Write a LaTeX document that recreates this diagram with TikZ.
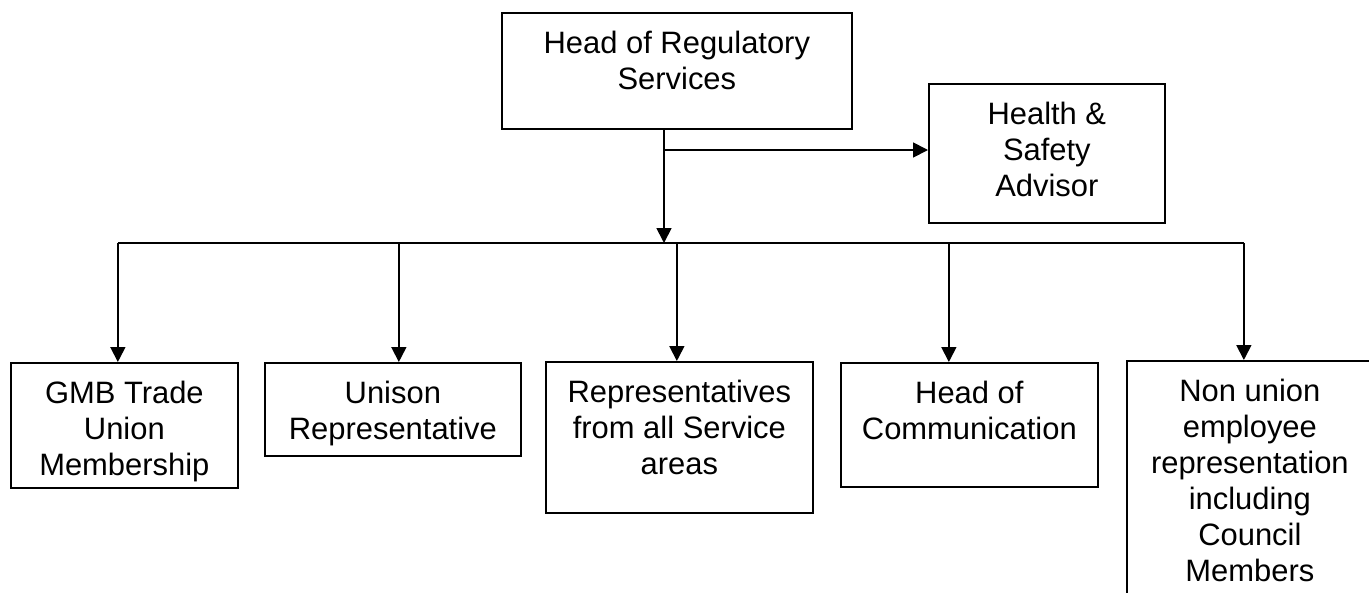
\documentclass[tikz,border=0pt]{standalone}
\usepackage{fontspec}
\setmainfont{Liberation Sans}
\usetikzlibrary{arrows.meta,calc}

% text sits at the top of each box
\newcommand{\boxtext}[3]{\parbox[c][#2][t]{#1}{\centering\rule{0pt}{0.82cm}#3}}

\begin{document}
\begin{tikzpicture}[
  box/.style={draw,line width=1pt,inner sep=0pt,anchor=north west,
              font=\fontsize{17.6}{20.5}\selectfont},
  arr/.style={-{Triangle[width=0.3cm,length=0.3cm]},line width=1pt},
  line/.style={line width=1pt},
  x=0.02cm, y=-0.02cm
]
\path[use as bounding box] (0,0) rectangle (1369,592);
\clip (0,0) rectangle (1369,592);

% --- top ---
\node[box] (head) at (501,12)  {\boxtext{7cm}{2.32cm}{Head of Regulatory\\Services}};
\node[box] (hsa)  at (928,83)  {\boxtext{4.72cm}{2.78cm}{Health \&\\Safety\\Advisor}};

% --- bottom row ---
\node[box] (gmb) at (10,362)   {\boxtext{4.54cm}{2.5cm}{GMB Trade\\Union\\Membership}};
\node[box] (uni) at (264,362)  {\boxtext{5.12cm}{1.86cm}{Unison\\Representative}};
\node[box] (rep) at (545,361)  {\boxtext{5.34cm}{3.02cm}{Representatives\\from all Service\\areas}};
\node[box] (hoc) at (840,362)  {\boxtext{5.14cm}{2.48cm}{Head of\\Communication}};
\node[box] (non) at (1126,360) {\boxtext{4.92cm}{5.2cm}{Non union\\employee\\representation\\including\\Council\\Members}};

% --- connectors ---
\coordinate (hub)   at (664,243);
\coordinate (split) at (664,150);
\draw[arr] (head.south -| hub) -- (hub);
\draw[arr] (split) -- (split -| hsa.west);
\draw[line] ([xshift=-0.13cm]gmb.north |- hub) -- ([xshift=-0.12cm]non.north |- hub);
\foreach \n/\dx in {gmb/-0.13,uni/0.12,rep/-0.05,hoc/-0.41,non/-0.12}
  \draw[arr] ([xshift=\dx cm]\n.north |- hub) -- ([xshift=\dx cm]\n.north);
\end{tikzpicture}
\end{document}
